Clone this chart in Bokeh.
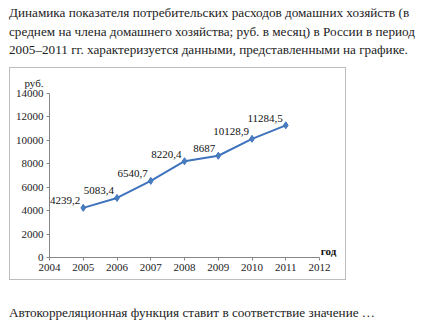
from bokeh.plotting import figure
from bokeh.models import Label, FixedTicker, Range1d, ColumnDataSource, Div
from bokeh.layouts import column
from bokeh.embed import file_html
from bokeh.resources import INLINE
from bokeh.core.properties import value

years = [2005, 2006, 2007, 2008, 2009, 2010, 2011]
spending = [4239.2, 5083.4, 6540.7, 8220.4, 8687.0, 10128.9, 11284.5]
labels = ["4239,2", "5083,4", "6540,7", "8220,4", "8687", "10128,9", "11284,5"]
x_ticks = [2004, 2005, 2006, 2007, 2008, 2009, 2010, 2011, 2012]
y_ticks = [0, 2000, 4000, 6000, 8000, 10000, 12000, 14000]
para_lines = [
    "Динамика показателя потребительских расходов домашних хозяйств (в",
    "среднем на члена домашнего хозяйства; руб. в месяц) в России в период",
    "2005–2011 гг. характеризуется данными, представленными на графике.",
]
bottom_text = "Автокорреляционная функция ставит в соответствие значение …"

FONT = "Tinos"
SPAN = '<span style="font-family:\'Liberation Serif\';font-size:13.2px;color:#222;white-space:nowrap">%s</span>'
DIV_STYLES = {"font-family": "'Liberation Serif'", "font-size": "13.2px", "line-height": "18.5px"}

top_div = Div(text="<br>".join(SPAN % s for s in para_lines),
              width=415, height=63, margin=(4, 0, 0, 9), styles=DIV_STYLES)

FW, FH = 337, 213
p = figure(width=FW, height=FH, output_backend="svg", toolbar_location=None,
           x_range=Range1d(2004, 2012.65), y_range=Range1d(0, 14000),
           min_border_left=39, min_border_right=6,
           min_border_top=25, min_border_bottom=24,
           margin=(0, 0, 0, 9),
           styles={"border": "1px solid #BDBDBD", "box-sizing": "border-box"})
p.outline_line_color = None
p.xgrid.grid_line_color = None
p.ygrid.grid_line_color = None

for ax in (p.xaxis[0], p.yaxis[0]):
    ax.axis_line_color = "#868686"
    ax.major_tick_line_color = "#868686"
    ax.major_tick_out = 3
    ax.major_tick_in = 0
    ax.minor_tick_line_color = None
    ax.major_label_text_font = FONT
    ax.major_label_text_font_size = "11px"
    ax.major_label_text_color = "#222222"
    ax.major_label_standoff = 3
p.xaxis[0].ticker = FixedTicker(ticks=x_ticks)
p.yaxis[0].ticker = FixedTicker(ticks=y_ticks)
p.xaxis[0].bounds = (x_ticks[0], x_ticks[-1])

p.title.text = "руб."
p.title.align = "left"
p.title.vertical_align = "bottom"
p.title.offset = -25
p.title.standoff = 10
p.title.text_font = FONT
p.title.text_font_size = "11px"
p.title.text_font_style = "normal"
p.title.text_color = "#222222"

src = ColumnDataSource(dict(x=years, y=spending, t=labels))
p.line("x", "y", source=src, line_color="#3F73BE", line_width=2)
p.scatter("x", "y", source=src, marker="diamond", size=7,
          fill_color="#4A7EBB", line_color="#3F73BE")
p.text("x", "y", text="t", source=src, text_font=value(FONT),
       text_font_size="11px", text_align="right", text_baseline="middle",
       x_offset=-3, y_offset=-7, text_color="#111111")

p.add_layout(Label(x=279, y=7, x_units="screen", y_units="screen",
                   text="год", text_font=FONT, text_font_size="11px",
                   text_align="center", text_baseline="alphabetic",
                   text_font_style="bold", text_color="#111111"))

bottom_div = Div(text=SPAN % bottom_text, width=415, height=26,
                 margin=(24, 0, 0, 9), styles=DIV_STYLES)

layout = column(top_div, p, bottom_div, spacing=0, margin=0)
open("out.html", "w").write(file_html(layout, INLINE))
